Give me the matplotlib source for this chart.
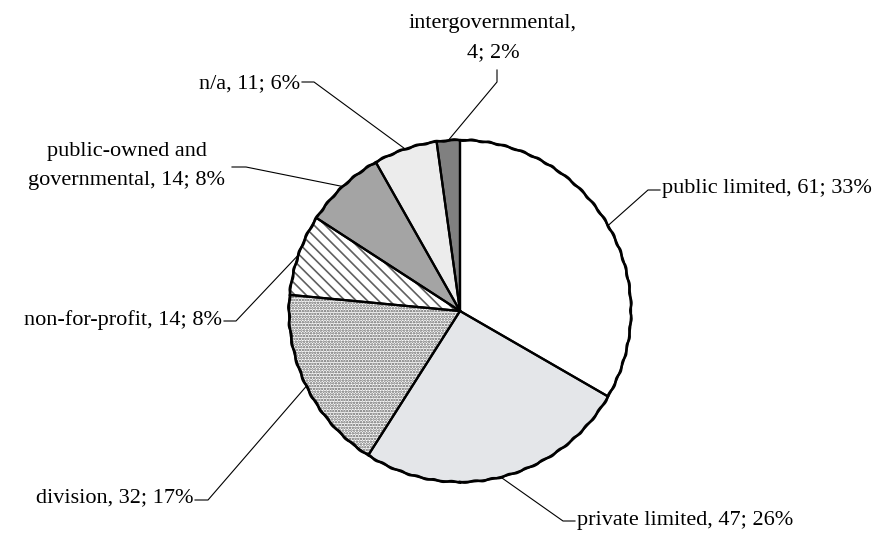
import numpy as np
import matplotlib
matplotlib.use('Agg')
import matplotlib.pyplot as plt
from matplotlib.patches import Wedge, Circle

# --- Données ---
categories = ['public limited', 'private limited', 'division', 'non-for-profit',
              'public-owned and\ngovernmental', 'n/a', 'intergovernmental,\n']
counts = [61, 47, 32, 14, 14, 11, 4]
percents = [33, 26, 17, 8, 8, 6, 2]

# styles des parts (couleur de fond, hachures)
faces = ['#ffffff', '#e4e6e9', '#ffffff', '#ffffff', '#a4a4a4', '#ececec', '#808080']
hatches = [None, None, '......', '\\\\\\', None, None, None]

W, H = 877, 538
CX, CY, R = 460, H - 311, 171

plt.rcParams['font.family'] = ['Liberation Serif', 'DejaVu Serif']
plt.rcParams['hatch.linewidth'] = 1.2

fig = plt.figure(figsize=(W / 100, H / 100), dpi=100)
ax = fig.add_axes([0, 0, 1, 1])

wedges, _ = ax.pie(counts, colors=faces, startangle=90, counterclock=False,
                   center=(CX, CY), radius=R, frame=True,
                   wedgeprops=dict(edgecolor='none', linewidth=0))
ax.set_xlim(0, W)
ax.set_ylim(0, H)
ax.set_aspect('equal')
ax.axis('off')

for w, h in zip(wedges, hatches):
    if h:
        ax.add_patch(Wedge((CX, CY), R, w.theta1, w.theta2, facecolor='none',
                           edgecolor='#606060', linewidth=0, hatch=h, zorder=2))
for w in wedges:
    ax.add_patch(Wedge((CX, CY), R, w.theta1, w.theta2, facecolor='none',
                       edgecolor='black', linewidth=1.6, zorder=3))
# contour légèrement ondulé comme dans l'original
rim = Circle((CX, CY), R, facecolor='none', edgecolor='black', linewidth=1.8, zorder=4)
rim.set_sketch_params(scale=0.7, length=18, randomness=1.5)
ax.add_patch(rim)

# positions des étiquettes (pixels, y vers le bas) : texte, coude, fin du trait
label_layout = [
    dict(xy=(662, 188), ha='left', elbow=(648, 190), end=(660, 190)),
    dict(xy=(577, 520), ha='left', elbow=(563, 521), end=(575, 521)),
    dict(xy=(193, 498), ha='right', elbow=(208, 500), end=(195, 500)),
    dict(xy=(222, 320), ha='right', elbow=(236, 321), end=(224, 321)),
    dict(xy=(127, 166), ha='center', elbow=(246, 167), end=(232, 167)),
    dict(xy=(300, 84), ha='right', elbow=(314, 82), end=(302, 82)),
    dict(xy=(493, 38), ha='center', elbow=(497, 82), end=(497, 70)),
]

for w, cat, n, p, lay in zip(wedges, categories, counts, percents, label_layout):
    mid = np.deg2rad((w.theta1 + w.theta2) / 2)
    ex, ey = CX + R * np.cos(mid), CY + R * np.sin(mid)
    bx, by = lay['elbow'][0], H - lay['elbow'][1]
    tx, ty = lay['end'][0], H - lay['end'][1]
    ax.plot([ex, bx, tx], [ey, by, ty], color='black', linewidth=0.8, zorder=1)
    if cat.endswith('\n'):
        txt = f'{cat}{n}; {p}%'
    else:
        txt = f'{cat}, {n}; {p}%'
    ax.text(lay['xy'][0], H - lay['xy'][1], txt, ha=lay['ha'], va='center',
            fontsize=16, multialignment='center', linespacing=1.75, color='black')

fig.savefig('out.png', dpi=100)
